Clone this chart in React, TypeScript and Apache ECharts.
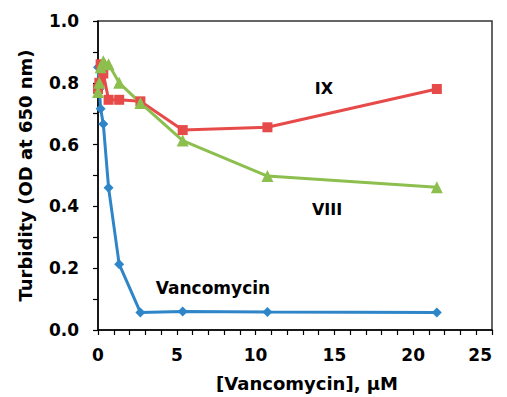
import React, { useEffect, useRef } from "react";
import * as echarts from "echarts";

const concentrations = [0, 0.084, 0.168, 0.336, 0.672, 1.344, 2.69, 5.375, 10.75, 21.5];
const vancomycin = [0.85, 0.78, 0.716, 0.667, 0.46, 0.213, 0.057, 0.06, 0.058, 0.057];
const compoundIX = [0.78, 0.8, 0.86, 0.83, 0.745, 0.745, 0.74, 0.647, 0.656, 0.78];
const compoundVIII = [0.77, 0.8, 0.85, 0.87, 0.86, 0.8, 0.735, 0.613, 0.498, 0.462];

const FONT = "DejaVu Sans";

const pairs = (ys: number[]) => concentrations.map((x, i) => [x, ys[i]]);

export default function App() {
  const ref = useRef<HTMLDivElement>(null);
  useEffect(() => {
    if (!ref.current) return;
    const chart = echarts.init(ref.current, undefined, { renderer: "svg" });
    chart.setOption({
      animation: false,
      backgroundColor: "#ffffff",
      grid: {
        left: 98,
        right: 15,
        top: 21,
        bottom: 66,
        show: true,
        borderColor: "#333333",
        borderWidth: 1.5,
      },
      xAxis: {
        type: "value",
        min: 0,
        max: 25,
        interval: 5,
        name: "[Vancomycin], μM",
        nameLocation: "middle",
        nameGap: 44,
        nameTextStyle: {
          fontFamily: FONT,
          fontWeight: "bold",
          fontSize: 18,
          color: "#000",
          padding: [0, 0, 0, 24],
        },
        axisLine: { show: true, lineStyle: { color: "#000", width: 1.5 } },
        axisTick: { show: true, length: 5, inside: false, lineStyle: { color: "#000", width: 1.2 } },
        minorTick: { show: true, splitNumber: 5, length: 5, lineStyle: { color: "#000", width: 1.2 } },
        splitLine: { show: false },
        axisLabel: {
          fontFamily: FONT,
          fontWeight: "bold",
          fontSize: 17,
          color: "#000",
          margin: 16,
          alignMaxLabel: "right",
        },
      },
      yAxis: {
        type: "value",
        min: 0,
        max: 1,
        interval: 0.2,
        name: "Turbidity (OD at 650 nm)",
        nameLocation: "middle",
        nameGap: 64,
        nameTextStyle: {
          fontFamily: FONT,
          fontWeight: "bold",
          fontSize: 18,
          color: "#000",
        },
        axisLine: { show: true, lineStyle: { color: "#000", width: 1.5 } },
        axisTick: { show: true, length: 5, inside: false, lineStyle: { color: "#000", width: 1.2 } },
        minorTick: { show: true, splitNumber: 2, length: 5, lineStyle: { color: "#000", width: 1.2 } },
        splitLine: { show: false },
        axisLabel: {
          fontFamily: FONT,
          fontWeight: "bold",
          fontSize: 17,
          color: "#000",
          margin: 19,
          formatter: (v: number) => v.toFixed(1),
        },
      },
      series: [
        {
          name: "Vancomycin",
          type: "line",
          data: pairs(vancomycin),
          symbol: "diamond",
          symbolSize: 10,
          lineStyle: { color: "#2E86C9", width: 3 },
          itemStyle: { color: "#2E86C9" },
        },
        {
          name: "IX",
          type: "line",
          data: pairs(compoundIX),
          symbol: "rect",
          symbolSize: 10,
          lineStyle: { color: "#E64B4A", width: 3 },
          itemStyle: { color: "#E64B4A" },
        },
        {
          name: "VIII",
          type: "line",
          data: pairs(compoundVIII),
          symbol: "triangle",
          symbolSize: 12,
          lineStyle: { color: "#8CBF4E", width: 3 },
          itemStyle: { color: "#8CBF4E" },
        },
      ],
      graphic: [
        {
          type: "text",
          x: 324,
          y: 88,
          style: {
            text: "IX",
            fontFamily: FONT,
            fontWeight: "bold",
            fontSize: 16,
            fill: "#000",
            align: "center",
            verticalAlign: "middle",
          },
        },
        {
          type: "text",
          x: 327,
          y: 209,
          style: {
            text: "VIII",
            fontFamily: FONT,
            fontWeight: "bold",
            fontSize: 16,
            fill: "#000",
            align: "center",
            verticalAlign: "middle",
          },
        },
        {
          type: "text",
          x: 213,
          y: 288,
          style: {
            text: "Vancomycin",
            fontFamily: FONT,
            fontWeight: "bold",
            fontSize: 17,
            fill: "#000",
            align: "center",
            verticalAlign: "middle",
          },
        },
      ],
    });
    return () => chart.dispose();
  }, []);
  return <div ref={ref} style={{ width: 507, height: 397, position: "absolute", left: 0, top: 0 }} />;
}
